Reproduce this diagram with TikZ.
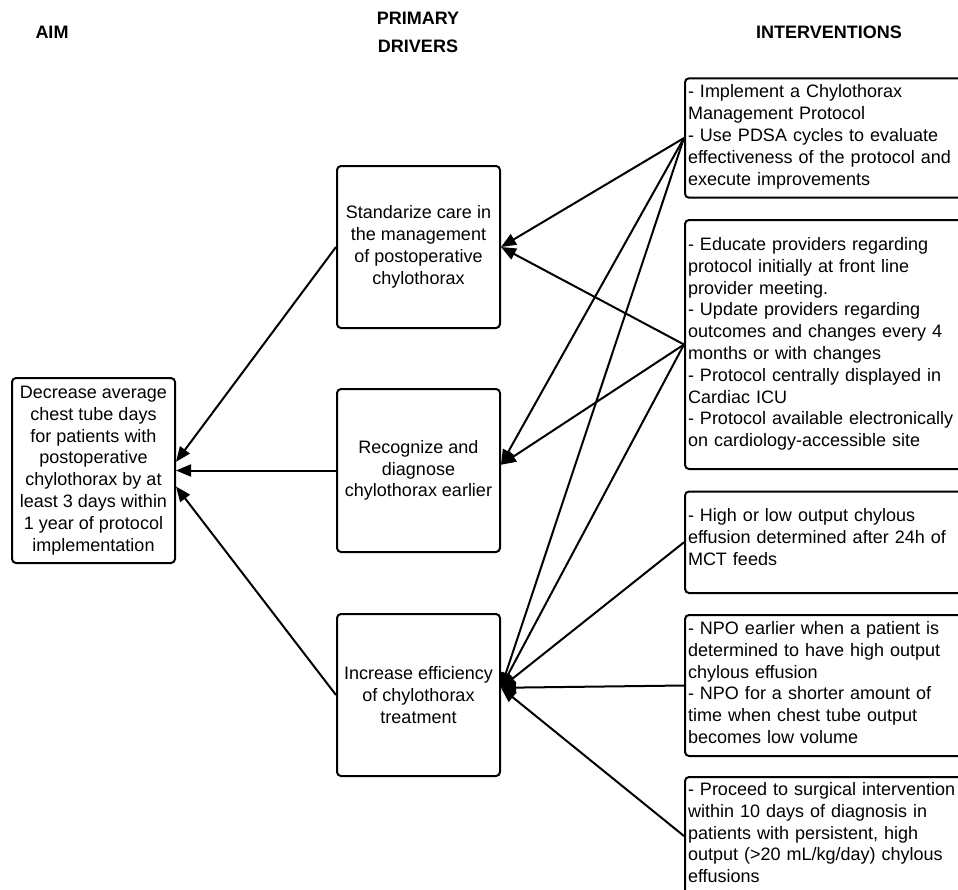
\documentclass[tikz,border=0pt]{standalone}
\usepackage{fontspec}
\setmainfont{Liberation Sans}
\usetikzlibrary{arrows.meta}
\begin{document}
\begin{tikzpicture}[x=1pt, y=-1pt,
	box/.style={draw, fill=white, line width=2pt, rounded corners=4pt, inner sep=0pt, font=\fontsize{18}{21.8}\selectfont},
	ctrbox/.style={box, align=center, minimum width=163pt},
	ibox/.style={box, anchor=north west, text width=290pt, inner xsep=3pt, align=left},
	head/.style={font=\fontsize{18}{28}\selectfont\bfseries, align=center},
	link/.style={line width=2pt, -{Triangle[length=15pt,width=12pt]}}]
	\useasboundingbox (0,0) rectangle (958,889);
	\clip (0,0) rectangle (958,889);
	\node[head] (haim) at (52,32) {AIM};
	\node[head] (hdrv) at (418,32) {PRIMARY\\DRIVERS};
	\node[head] (hint) at (829,32) {INTERVENTIONS};
	\node[ctrbox, minimum height=185pt] (aim) at (93.5,470.5) {Decrease average\\chest tube days\\for patients with\\postoperative\\chylothorax by at\\least 3 days within\\1 year of protocol\\implementation};
	\node[ctrbox, minimum height=162pt] (d1) at (418.5,247) {Standarize care in\\the management\\of postoperative\\chylothorax};
	\node[ctrbox, minimum height=163pt] (d2) at (418.5,470.5) {Recognize and\\diagnose\\chylothorax earlier};
	\node[ctrbox, minimum height=162pt] (d3) at (418.5,695) {Increase efficiency\\of chylothorax\\treatment};
	\node[ibox, text height=19.5pt, text depth=99.9pt] (i1) at (684,77.3) {- Implement a Chylothorax\\Management Protocol\\- Use PDSA cycles to evaluate\\effectiveness of the protocol and\\execute improvements};
	\node[ibox, text height=30.5pt, text depth=218.5pt] (i2) at (684,219) {- Educate providers regarding\\protocol initially at front line\\provider meeting.\\- Update providers regarding\\outcomes and changes every 4\\months or with changes\\- Protocol centrally displayed in\\Cardiac ICU\\- Protocol available electronically\\on cardiology-accessible site};
	\node[ibox, text height=30pt, text depth=71.5pt] (i3) at (684,490.5) {- High or low output chylous\\effusion determined after 24h of\\MCT feeds};
	\node[ibox, text height=19.5pt, text depth=121.5pt] (i4) at (684,614) {- NPO earlier when a patient is\\determined to have high output\\chylous effusion\\- NPO for a shorter amount of\\time when chest tube output\\becomes low volume};
	\node[ibox, text height=18.5pt, text depth=99.5pt] (i5) at (684,776) {- Proceed to surgical intervention\\within 10 days of diagnosis in\\patients with persistent, high\\output (>20 mL/kg/day) chylous\\effusions};
	\foreach \src/\dst in {i1/d1.east, i1/d2.4, i1/d3.5, i2/d1.east, i2/d2.4, i2/d3.5, i3/d3.5, i4/d3.5, i5/d3.5}
		\draw[link] (\src.west) -- (\dst);
	\foreach \src/\dst in {d1/aim.6, d2/aim.east, d3/aim.-11}
		\draw[link] (\src.west) -- (\dst);
\end{tikzpicture}
\end{document}
